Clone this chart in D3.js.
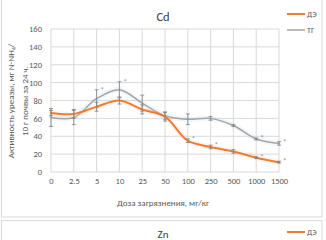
<!DOCTYPE html>
<html><head><meta charset="utf-8">
<script src="https://cdn.jsdelivr.net/npm/d3@7"></script>
<style>html,body{margin:0;padding:0;background:#fff;}svg{display:block;font-family:Carlito,Calibri,"Liberation Sans","DejaVu Sans",sans-serif;}</style>
</head><body>
<svg id="c" width="326" height="240"></svg>
<script>
const categories = ["0","2.5","5","10","25","50","100","250","500","1000","1500"];
const seriesDE = [66, 65, 73, 80, 70, 62, 35, 28, 23, 16, 11];
const errDE    = [3, 5, 5, 4, 5, 5, 2, 2, 2, 1, 1];
const seriesTG = [61, 61, 82, 92, 77, 63, 59, 60, 52, 37, 32];
const errTG    = [10, 8, 10, 9, 9, 4, 6, 2, 1, 1, 2];
const yTicks = [0, 20, 40, 60, 80, 100, 120, 140, 160];
const starsDE = ["100","250","1000","1500"];
const starsTG = ["5","10","1000","1500"];

const svg = d3.select("#c");
const orange = "#ED7D31", grey = "#A5A5A5";
const ff = "Carlito,Calibri,'Liberation Sans',sans-serif";

// panel borders
svg.append("rect").attr("x",1.5).attr("y",-2).attr("width",320.5).attr("height",219).attr("fill","#fff").attr("stroke","#d9d9d9");
svg.append("rect").attr("x",1.5).attr("y",220.5).attr("width",320.5).attr("height",30).attr("fill","#fff").attr("stroke","#d9d9d9");

const x = d3.scalePoint().domain(categories).range([51, 279]);
const y = d3.scaleLinear().domain([0,160]).range([172, 29]);

// grid
const g = svg.append("g");
g.selectAll(".hg").data(yTicks).join("line")
  .attr("x1",51).attr("x2",279).attr("y1",d=>y(d)).attr("y2",d=>y(d))
  .attr("stroke","#d9d9d9").attr("stroke-width",1);
g.selectAll(".vg").data(categories).join("line")
  .attr("x1",d=>x(d)).attr("x2",d=>x(d)).attr("y1",y(0)).attr("y2",y(160))
  .attr("stroke","#d9d9d9").attr("stroke-width",1);

// axes
const yAxis = d3.axisLeft(y).tickValues(yTicks).tickSize(0).tickPadding(9);
const ya = svg.append("g").attr("transform","translate(51,0)").call(yAxis);
ya.select(".domain").remove();
ya.selectAll("text").attr("font-size",8.5).attr("fill","#595959").attr("font-family",ff);

const xAxis = d3.axisBottom(x).tickSize(0).tickPadding(6);
const xa = svg.append("g").attr("transform",`translate(0,${y(0)})`).call(xAxis);
xa.select(".domain").remove();
xa.selectAll("text").attr("font-size",8.5).attr("fill","#595959").attr("font-family",ff);

// lines
const line = d3.line().x((d,i)=>x(categories[i])).y(d=>y(d)).curve(d3.curveCatmullRom.alpha(0.5));
function drawSeries(vals, errs, color, w, halo){
  svg.append("path").datum(vals).attr("d",line).attr("fill","none")
    .attr("stroke",halo).attr("stroke-width",w+4).attr("stroke-opacity",0.2).attr("stroke-linecap","round");
  svg.append("path").datum(vals).attr("d",line).attr("fill","none")
    .attr("stroke",color).attr("stroke-width",w).attr("stroke-linecap","round");
  const eb = svg.append("g").attr("stroke","#7f7f7f").attr("stroke-width",0.8);
  vals.forEach((v,i)=>{
    const cx = x(categories[i]);
    eb.append("line").attr("x1",cx).attr("x2",cx).attr("y1",y(v+errs[i])).attr("y2",y(v-errs[i]));
    eb.append("line").attr("x1",cx-2).attr("x2",cx+2).attr("y1",y(v+errs[i])).attr("y2",y(v+errs[i]));
    eb.append("line").attr("x1",cx-2).attr("x2",cx+2).attr("y1",y(v-errs[i])).attr("y2",y(v-errs[i]));
  });
}
drawSeries(seriesTG, errTG, grey, 1.5, "#bdd7ee");
drawSeries(seriesDE, errDE, orange, 2, "#f8cbad");

// asterisks
function stars(list, vals, errs){
  list.forEach(c=>{
    const i = categories.indexOf(c);
    svg.append("text").attr("x",x(c)+4).attr("y",y(vals[i]+errs[i])+3)
      .attr("font-size",7).attr("fill","#8c8c8c").text("*");
  });
}
stars(starsTG, seriesTG, errTG);
stars(starsDE, seriesDE, errDE);

// title
svg.append("text").attr("x",163).attr("y",21).attr("text-anchor","middle")
  .attr("font-size",12.5).attr("fill","#404040").attr("font-family",ff).text("Cd");

// legend
const leg = [["ДЭ",orange,2,14],["ТГ",grey,1.5,30]];
leg.forEach(([t,c,w,ly])=>{
  svg.append("line").attr("x1",287).attr("x2",305).attr("y1",ly).attr("y2",ly).attr("stroke",c).attr("stroke-width",w);
  svg.append("text").attr("x",307).attr("y",ly+3).attr("font-size",8).attr("fill","#595959").attr("font-family",ff).text(t);
});

// axis titles
svg.append("text").attr("x",163).attr("y",206).attr("text-anchor","middle")
  .attr("font-size",9).attr("fill","#595959").attr("font-family",ff).text("Доза загрязнения, мг/кг");
const yt = svg.append("text").attr("transform","translate(14,101) rotate(-90)").attr("text-anchor","middle")
  .attr("font-size",9).attr("fill","#595959").attr("font-family",ff);
yt.append("tspan").text("Активность уреазы, мг N-NH");
yt.append("tspan").attr("font-size",6).attr("dy",2).text("4");
yt.append("tspan").attr("dy",-2).text("/");
svg.append("text").attr("transform","translate(28,101) rotate(-90)").attr("text-anchor","middle")
  .attr("font-size",9).attr("fill","#595959").attr("font-family",ff).text("10 г почвы за 24 ч.");

// second panel (cut off)
svg.append("text").attr("x",163).attr("y",238).attr("text-anchor","middle")
  .attr("font-size",11).attr("fill","#404040").attr("font-family",ff).text("Zn");
svg.append("line").attr("x1",287).attr("x2",305).attr("y1",232).attr("y2",232).attr("stroke",orange).attr("stroke-width",2);
svg.append("text").attr("x",307).attr("y",235).attr("font-size",8).attr("fill","#595959").attr("font-family",ff).text("ДЭ");
</script>
</body></html>
